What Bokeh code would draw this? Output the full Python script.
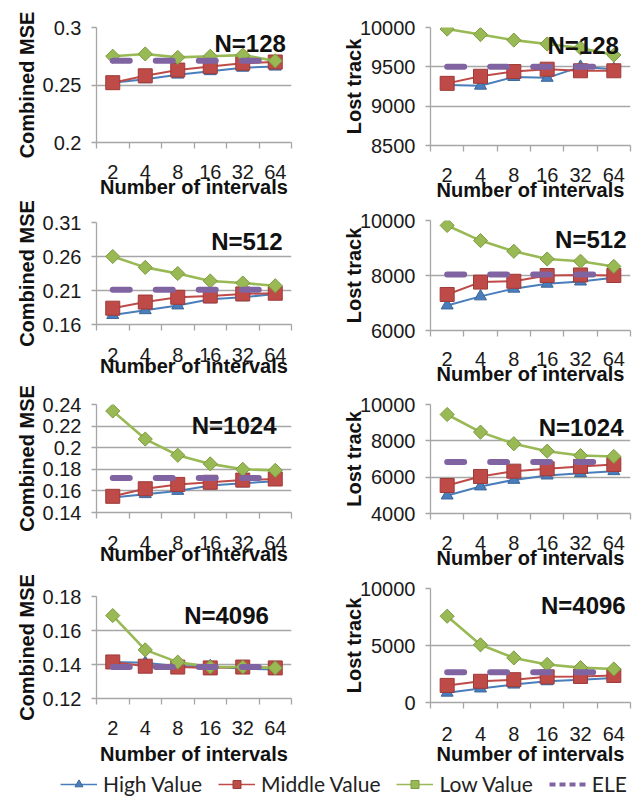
from bokeh.plotting import figure
from bokeh.models import (Range1d, FixedTicker, LinearAxis, Label, Legend,
                          LegendItem, Grid)
from bokeh.layouts import column, row
from bokeh.embed import file_html
from bokeh.resources import INLINE

# ---------------- data ----------------
intervals = ["2", "4", "8", "16", "32", "64"]

mse_128_high = [0.252, 0.255, 0.259, 0.262, 0.265, 0.266]
mse_128_mid = [0.252, 0.258, 0.263, 0.266, 0.269, 0.270]
mse_128_low = [0.275, 0.277, 0.274, 0.275, 0.276, 0.271]
mse_128_ele = 0.271
mse_128_ticks = [0.2, 0.25, 0.3]
mse_128_labels = ["0.2", "0.25", "0.3"]

lost_128_high = [9270, 9260, 9370, 9360, 9500, 9470]
lost_128_mid = [9290, 9380, 9440, 9470, 9450, 9450]
lost_128_low = [9980, 9910, 9840, 9790, 9740, 9650]
lost_128_ele = 9500
lost_128_ticks = [8500, 9000, 9500, 10000]

mse_512_high = [0.174, 0.181, 0.188, 0.197, 0.200, 0.205]
mse_512_mid = [0.184, 0.193, 0.200, 0.202, 0.205, 0.206]
mse_512_low = [0.260, 0.244, 0.235, 0.224, 0.221, 0.217]
mse_512_ele = 0.211
mse_512_ticks = [0.16, 0.21, 0.26, 0.31]
mse_512_labels = ["0.16", "0.21", "0.26", "0.31"]

lost_512_high = [6910, 7240, 7520, 7700, 7780, 7920]
lost_512_mid = [7310, 7760, 7790, 8000, 8020, 8000]
lost_512_low = [9820, 9270, 8880, 8600, 8520, 8330]
lost_512_ele = 8040
lost_512_ticks = [6000, 8000, 10000]

mse_1024_high = [0.154, 0.157, 0.160, 0.165, 0.167, 0.169]
mse_1024_mid = [0.155, 0.162, 0.166, 0.168, 0.170, 0.171]
mse_1024_low = [0.234, 0.208, 0.193, 0.185, 0.180, 0.179]
mse_1024_ele = 0.172
mse_1024_ticks = [0.14, 0.16, 0.18, 0.2, 0.22, 0.24]
mse_1024_labels = ["0.14", "0.16", "0.18", "0.2", "0.22", "0.24"]

lost_1024_high = [4990, 5490, 5850, 6090, 6220, 6330]
lost_1024_mid = [5540, 6040, 6330, 6460, 6590, 6700]
lost_1024_low = [9450, 8480, 7840, 7430, 7190, 7140]
lost_1024_ele = 6830
lost_1024_ticks = [4000, 6000, 8000, 10000]

mse_4096_high = [0.1415, 0.141, 0.139, 0.139, 0.1375, 0.137]
mse_4096_mid = [0.1415, 0.139, 0.1385, 0.138, 0.1385, 0.138]
mse_4096_low = [0.1688, 0.1486, 0.1414, 0.1385, 0.1385, 0.138]
mse_4096_ele = 0.1385
mse_4096_ticks = [0.12, 0.14, 0.16, 0.18]
mse_4096_labels = ["0.12", "0.14", "0.16", "0.18"]

lost_4096_high = [860, 1230, 1570, 1860, 2000, 2140]
lost_4096_mid = [1500, 1860, 2000, 2250, 2290, 2370]
lost_4096_low = [7570, 5060, 3910, 3340, 3060, 2940]
lost_4096_ele = 2660
lost_4096_ticks = [0, 5000, 10000]

series_names = ["High Value", "Middle Value", "Low Value", "ELE"]

# ---------------- style ----------------
BLUE, BLUE_D = "#4A7EBB", "#3B6699"
RED, RED_D = "#BE4B48", "#9E3A38"
GREEN, GREEN_D = "#98B954", "#7C9A40"
PURPLE = "#8064A2"
GRID = "#A6A6A6"
FONT = "Liberation Sans"

xs = [i + 0.5 for i in range(len(intervals))]


def panel(w, h, fl, fr, ft, fb, yr, yticks, ylabels, ylabel, ylab_std,
          high, mid, low, ele, ntext, nfx, nfy, tick_std, title_std):
    p = figure(width=w, height=h, output_backend="svg", toolbar_location=None,
               x_range=Range1d(0, len(intervals)), y_range=Range1d(*yr),
               x_axis_type=None, y_axis_type=None,
               min_border_left=fl, min_border_right=w - fr,
               min_border_top=ft, min_border_bottom=h - fb)
    p.outline_line_color = None
    p.background_fill_color = "white"
    p.border_fill_color = "white"

    xa = LinearAxis(ticker=FixedTicker(ticks=xs, minor_ticks=list(range(len(intervals) + 1))),
                    major_label_overrides={x: c for x, c in zip(xs, intervals)},
                    axis_label="Number of intervals")
    xa.major_tick_out = 0
    xa.major_tick_in = 0
    xa.minor_tick_out = 6
    xa.minor_tick_in = 0
    xa.minor_tick_line_color = GRID
    xa.minor_tick_line_width = 1.3
    xa.axis_line_color = GRID
    xa.axis_line_width = 1.3
    xa.major_label_standoff = tick_std
    xa.major_label_text_font = FONT
    xa.major_label_text_font_size = "20px"
    xa.major_label_text_color = "#1a1a1a"
    xa.axis_label_standoff = title_std
    xa.axis_label_text_font = FONT
    xa.axis_label_text_font_size = "20px"
    xa.axis_label_text_font_style = "bold"
    xa.axis_label_text_color = "#111111"
    p.add_layout(xa, "below")

    yt = FixedTicker(ticks=yticks)
    overrides = {t: l for t, l in zip(yticks, ylabels)} if ylabels else {}
    ya = LinearAxis(ticker=yt, axis_label=ylabel, major_label_overrides=overrides)
    ya.major_tick_out = 5
    ya.major_tick_in = 0
    ya.minor_tick_out = 0
    ya.minor_tick_in = 0
    ya.major_tick_line_color = GRID
    ya.major_tick_line_width = 1.3
    ya.axis_line_color = GRID
    ya.axis_line_width = 1.3
    ya.major_label_standoff = 10
    ya.major_label_text_font = FONT
    ya.major_label_text_font_size = "20px"
    ya.major_label_text_color = "#1a1a1a"
    ya.axis_label_standoff = ylab_std
    ya.axis_label_text_font = FONT
    ya.axis_label_text_font_size = "20px"
    ya.axis_label_text_font_style = "bold"
    ya.axis_label_text_color = "#111111"
    p.add_layout(ya, "left")

    p.add_layout(Grid(dimension=1, ticker=yt, grid_line_color=GRID, grid_line_width=1.3))

    # High
    p.line(xs, high, line_color=BLUE, line_width=2)
    p.scatter(xs, high, marker="triangle", size=12, fill_color=BLUE, line_color=BLUE_D)
    # Middle
    p.line(xs, mid, line_color=RED, line_width=2)
    p.scatter(xs, mid, marker="square", size=14, fill_color=RED, line_color=RED_D)
    # Low
    p.line(xs, low, line_color=GREEN, line_width=2.6)
    p.scatter(xs, low, marker="square", angle=0.7853981634, size=10,
              fill_color=GREEN, line_color=GREEN_D)
    # ELE
    p.line(xs, [ele] * len(xs), line_color=PURPLE, line_width=6,
           line_dash="17 26", line_cap="round")

    p.add_layout(Label(x=nfx * len(intervals), y=yr[0] + nfy * (yr[1] - yr[0]),
                       text=ntext, text_font=FONT, text_font_size="24px",
                       text_font_style="bold", text_align="right",
                       text_baseline="middle", text_color="#111111"))
    return p


MSE = "Combined MSE"
LOST = "Lost track"

# left column (width 320): height, frame left/right/top/bottom in local px
p1 = panel(320, 200, 96, 301, 27, 145, (0.2, 0.3), mse_128_ticks, mse_128_labels, MSE, 2,
           mse_128_high, mse_128_mid, mse_128_low, mse_128_ele, "N=128", 0.971, 0.864, 16, -6)
p3 = panel(320, 179, 96, 291, 22, 127, (0.16, 0.31), mse_512_ticks, mse_512_labels, MSE, 2,
           mse_512_high, mse_512_mid, mse_512_low, mse_512_ele, "N=512", 0.954, 0.81, 17, -10)
p5 = panel(320, 188, 96, 292, 25, 136, (0.14, 0.24), mse_1024_ticks, mse_1024_labels, MSE, 2,
           mse_1024_high, mse_1024_mid, mse_1024_low, mse_1024_ele, "N=1024", 0.923, 0.81, 17, -10)
p7 = panel(320, 200, 96, 295, 29, 131, (0.12, 0.18), mse_4096_ticks, mse_4096_labels, MSE, 2,
           mse_4096_high, mse_4096_mid, mse_4096_low, mse_4096_ele, "N=4096", 0.884, 0.814, 16, 5)

# right column (width 321)
p2 = panel(321, 203, 110, 317, 27, 145, (8500, 10000), lost_128_ticks, None, LOST, -8,
           lost_128_high, lost_128_mid, lost_128_low, lost_128_ele, "N=128", 0.942, 0.847, 16, -6)
p4 = panel(321, 184, 110, 310, 17, 127, (6000, 10000), lost_512_ticks, None, LOST, -8,
           lost_512_high, lost_512_mid, lost_512_low, lost_512_ele, "N=512", 0.98, 0.827, 15, -6)
p6 = panel(321, 187, 110, 310, 17, 126, (4000, 10000), lost_1024_ticks, None, LOST, -8,
           lost_1024_high, lost_1024_mid, lost_1024_low, lost_1024_ele, "N=1024", 0.965, 0.789, 16, -6)
p8 = panel(321, 193, 110, 317, 14, 131, (0, 10000), lost_4096_ticks, None, LOST, -8,
           lost_4096_high, lost_4096_mid, lost_4096_low, lost_4096_ele, "N=4096", 0.976, 0.855, 18, -1)

# ---------------- legend strip ----------------
lf = figure(width=641, height=33, output_backend="svg", toolbar_location=None,
            x_axis_type=None, y_axis_type=None, min_border=0,
            x_range=Range1d(0, 1), y_range=Range1d(0, 1))
lf.outline_line_color = None
# legend-only renderers, placed outside the visible range
hx, hy = [-2, -1], [-2, -1]
r_hl = lf.line(hx, hy, line_color=BLUE, line_width=1.5)
r_hm = lf.scatter(hx, hy, marker="triangle", size=8, fill_color=BLUE, line_color=BLUE_D)
r_ml = lf.line(hx, hy, line_color=RED, line_width=1.5)
r_mm = lf.scatter(hx, hy, marker="square", size=8, fill_color=RED, line_color=RED_D)
r_ll = lf.line(hx, hy, line_color=GREEN, line_width=1.5)
r_lm = lf.scatter(hx, hy, marker="square", angle=0.7853981634, size=5, fill_color=GREEN, line_color=GREEN_D)
r_el = lf.line(hx, hy, line_color=PURPLE, line_width=4, line_dash="6 4")

legend = Legend(items=[
    LegendItem(label=series_names[0], renderers=[r_hl, r_hm]),
    LegendItem(label=series_names[1], renderers=[r_ml, r_mm]),
    LegendItem(label=series_names[2], renderers=[r_ll, r_lm]),
    LegendItem(label=series_names[3], renderers=[r_el]),
], orientation="horizontal", location=(60, 4))
legend.glyph_width = 37
legend.glyph_height = 20
legend.label_standoff = 6
legend.spacing = 16
legend.padding = 0
legend.margin = 0
legend.border_line_color = None
legend.background_fill_alpha = 0
legend.label_text_font = "Lato"
legend.label_text_font_size = "21px"
legend.label_text_color = "#222222"
lf.add_layout(legend)

layout = column(row(column(p1, p3, p5, p7), column(p2, p4, p6, p8)), lf)

open("out.html", "w").write(file_html(layout, INLINE))
